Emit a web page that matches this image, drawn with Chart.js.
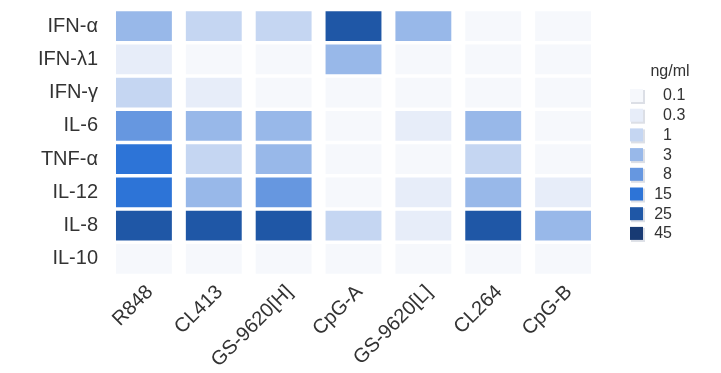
<!DOCTYPE html>
<html>
<head>
<meta charset="utf-8">
<script src="https://cdn.jsdelivr.net/npm/chart.js@4"></script>
<style>
    html, body { margin: 0; padding: 0; background: #fff; }
    #wrap { width: 721px; height: 373px; }
</style>
</head>
<body>
<div id="wrap"><canvas id="heatChart" width="721" height="373"></canvas></div>
<script>
// stimuli on the x axis, cytokines down the y axis
const stimuli = ['R848', 'CL413', 'GS-9620[H]', 'CpG-A', 'GS-9620[L]', 'CL264', 'CpG-B'];
const cytokines = ['IFN-α', 'IFN-λ1', 'IFN-γ', 'IL-6', 'TNF-α', 'IL-12', 'IL-8', 'IL-10'];

// ng/ml per stimulus (same order as stimuli)
const ifnA   = [3, 1, 1, 25, 3, 0.1, 0.1];
const ifnL1  = [0.3, 0.1, 0.1, 3, 0.1, 0.1, 0.1];
const ifnG   = [1, 0.3, 0.1, 0.1, 0.1, 0.1, 0.1];
const il6    = [8, 3, 3, 0.1, 0.3, 3, 0.1];
const tnfA   = [15, 1, 3, 0.1, 0.1, 1, 0.1];
const il12   = [15, 3, 8, 0.1, 0.3, 3, 0.3];
const il8    = [25, 25, 25, 1, 0.3, 25, 3];
const il10   = [0.1, 0.1, 0.1, 0.1, 0.1, 0.1, 0.1];
const rows = [ifnA, ifnL1, ifnG, il6, tnfA, il12, il8, il10];

// colour key
const legendTitle = 'ng/ml';
const levels = [0.1, 0.3, 1, 3, 8, 15, 25, 45];
const levelLabels = ['0.1', '0.3', '1', '3', '8', '15', '25', '45'];
const levelColors = ['#f6f8fc', '#e7edf9', '#c5d6f2', '#98b8e9', '#6697e0', '#2d74d7', '#1f57a6', '#183a73'];

const textColor = '#333333';
const fontFamily = '"Liberation Sans", Arial, Helvetica, sans-serif';

function colorFor(v) {
    let idx = 0;
    levels.forEach((l, i) => { if (v >= l) idx = i; });
    return levelColors[idx];
}

// floating bars span one row band each
const datasets = rows.map((vals, i) => ({
    label: cytokines[i],
    data: vals.map(() => [i + 0.05, i + 0.95]),
    backgroundColor: vals.map(colorFor),
    borderWidth: 0,
    grouped: false,
    barPercentage: 0.8,
    categoryPercentage: 1
}));

const legendPlugin = {
    id: 'colourKey',
    afterDraw(chart) {
        const ctx = chart.ctx;
        ctx.save();
        ctx.fillStyle = textColor;
        ctx.font = '16px ' + fontFamily;
        ctx.textAlign = 'center';
        ctx.textBaseline = 'middle';
        ctx.fillText(legendTitle, 670, 72);
        levels.forEach((l, i) => {
            const y = 96 + i * 19.7;
            ctx.fillStyle = '#dcdfe6';
            ctx.fillRect(631, y - 6, 14, 14);
            ctx.fillStyle = levelColors[i];
            ctx.fillRect(630, y - 7, 13, 13);
            const parts = levelLabels[i].split('.');
            ctx.fillStyle = textColor;
            ctx.textAlign = 'right';
            ctx.fillText(parts[0], 672, y);
            if (parts.length > 1) {
                ctx.textAlign = 'left';
                ctx.fillText('.' + parts[1], 672, y);
            }
        });
        ctx.restore();
    }
};

new Chart(document.getElementById('heatChart'), {
    type: 'bar',
    data: { labels: stimuli, datasets: datasets },
    options: {
        responsive: false,
        animation: false,
        layout: { padding: { top: 9.5, right: 123, bottom: 0, left: 0 } },
        plugins: {
            legend: { display: false },
            tooltip: { enabled: false }
        },
        scales: {
            x: {
                grid: { display: false },
                border: { display: false },
                ticks: {
                    color: textColor,
                    font: { family: fontFamily, size: 20 },
                    maxRotation: 45,
                    minRotation: 45,
                    padding: -3,
                    labelOffset: 6
                },
                afterFit(scale) {
                    scale.height = 97.5;
                    scale.paddingLeft = 0;
                    scale.paddingRight = 0;
                }
            },
            y: {
                min: 0,
                max: 8,
                reverse: true,
                grid: { display: false },
                border: { display: false },
                afterBuildTicks(scale) {
                    scale.ticks = cytokines.map((c, i) => ({ value: i + 0.5 }));
                },
                ticks: {
                    color: textColor,
                    font: { family: fontFamily, size: 20 },
                    padding: 3,
                    callback: (v) => cytokines[Math.floor(v)]
                },
                afterFit(scale) {
                    scale.width = 109;
                    scale.paddingTop = 0;
                    scale.paddingBottom = 0;
                }
            }
        }
    },
    plugins: [legendPlugin]
});
</script>
</body>
</html>
